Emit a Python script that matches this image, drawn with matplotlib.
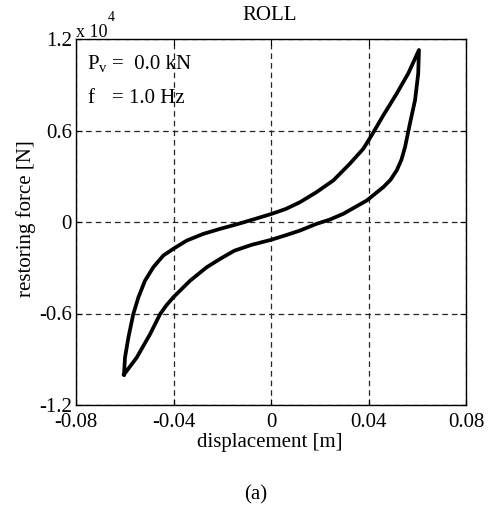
import matplotlib
matplotlib.use("Agg")
import matplotlib.pyplot as plt
import numpy as np

plt.rcParams['font.family'] = ['Liberation Serif', 'DejaVu Serif']
plt.rcParams['mathtext.fontset'] = 'custom'
plt.rcParams['mathtext.rm'] = 'Liberation Serif'
plt.rcParams['mathtext.it'] = 'Liberation Serif:italic'

# ascending branch (min -> max), displacement [m], force [N]
x_up = [-0.0603, -0.0599, -0.0585, -0.0565, -0.0544, -0.0517, -0.0483, -0.0442,
        -0.0401, -0.0346, -0.0278, -0.0209, -0.0140, -0.0070, 0.0, 0.0060,
        0.0119, 0.0187, 0.0256, 0.0324, 0.0379, 0.0413, 0.0461, 0.0516,
        0.0563, 0.0607]
f_up = [-10000, -8890, -7570, -6040, -4940, -3850, -2970, -2200,
        -1760, -1220, -780, -450, -150, 180, 520, 850,
        1300, 1960, 2730, 3830, 4810, 5690, 7000, 8430,
        9740, 11280]

# descending branch (max -> min)
x_down = [0.0607, 0.0604, 0.0591, 0.0570, 0.0550, 0.0535, 0.0516, 0.0490,
          0.0461, 0.0393, 0.0297, 0.0240, 0.0187, 0.0119, 0.0060, 0.0,
          -0.0080, -0.0150, -0.0209, -0.0264, -0.0332, -0.0401, -0.0430,
          -0.0455, -0.0496, -0.0551, -0.0603]
f_down = [11280, 9740, 7990, 6460, 4920, 4080, 3390, 2760,
          2290, 1410, 540, 150, -120, -560, -870, -1170,
          -1500, -1880, -2420, -2970, -3850, -4940, -5480,
          -6040, -7350, -8890, -10000]

xticks = [-0.08, -0.04, 0, 0.04, 0.08]
xticklabels = ['-0.08', '-0.04', '0', '0.04', '0.08']
yticks = [-12000, -6000, 0, 6000, 12000]
yticklabels = ['-1.2', '-0.6', '0', '0.6', '1.2']

W, H = 491, 513
fig = plt.figure(figsize=(W / 100, H / 100), dpi=100)
ax = fig.add_axes([76 / W, 1 - 405 / H, 390 / W, 366 / H])

x = np.concatenate([x_up, x_down])
f = np.concatenate([f_up, f_down])
ax.plot(x, f, color='black', lw=2.7, solid_joinstyle='round')

ax.set_xlim(-0.08, 0.08)
ax.set_ylim(-12000, 12000)
ax.set_xticks(xticks)
ax.set_xticklabels(xticklabels)
ax.set_yticks(yticks)
ax.set_yticklabels(yticklabels)
ax.tick_params(direction='in', length=4, width=0.8, labelsize=15,
               top=True, right=True)
ax.tick_params(axis='x', pad=6)
ax.tick_params(axis='y', pad=3)
ax.grid(True, color='0.15', lw=0.9, dashes=(4.5, 3.2))
for s in ax.spines.values():
    s.set_linewidth(1.0)

fs = 15
fig.text(270 / W, 1 - 16 / H, 'ROLL', ha='center', va='center', fontsize=fs)
fig.text(76 / W, 1 - 37 / H, 'x 10', ha='left', va='baseline', fontsize=13)
fig.text(108 / W, 1 - 21 / H, '4', ha='left', va='baseline', fontsize=10)
fig.text(87 / W, 1 - 69 / H, r'P$_{\mathrm{v}}$', ha='left', va='baseline', fontsize=fs)
fig.text(112 / W, 1 - 69 / H, '=  0.0 kN', ha='left', va='baseline', fontsize=fs)
fig.text(87 / W, 1 - 103 / H, 'f', ha='left', va='baseline', fontsize=fs)
fig.text(112 / W, 1 - 103 / H, '= 1.0 Hz', ha='left', va='baseline', fontsize=fs)

fig.text(270 / W, 1 - 443 / H, 'displacement [m]', ha='center', va='center', fontsize=fs)
fig.text(26 / W, 1 - 219 / H, 'restoring force [N]', ha='center', va='center',
         rotation=90, fontsize=fs)
fig.text(256 / W, 1 - 495 / H, '(a)', ha='center', va='center', fontsize=fs)

fig.savefig('out.png', dpi=100)
